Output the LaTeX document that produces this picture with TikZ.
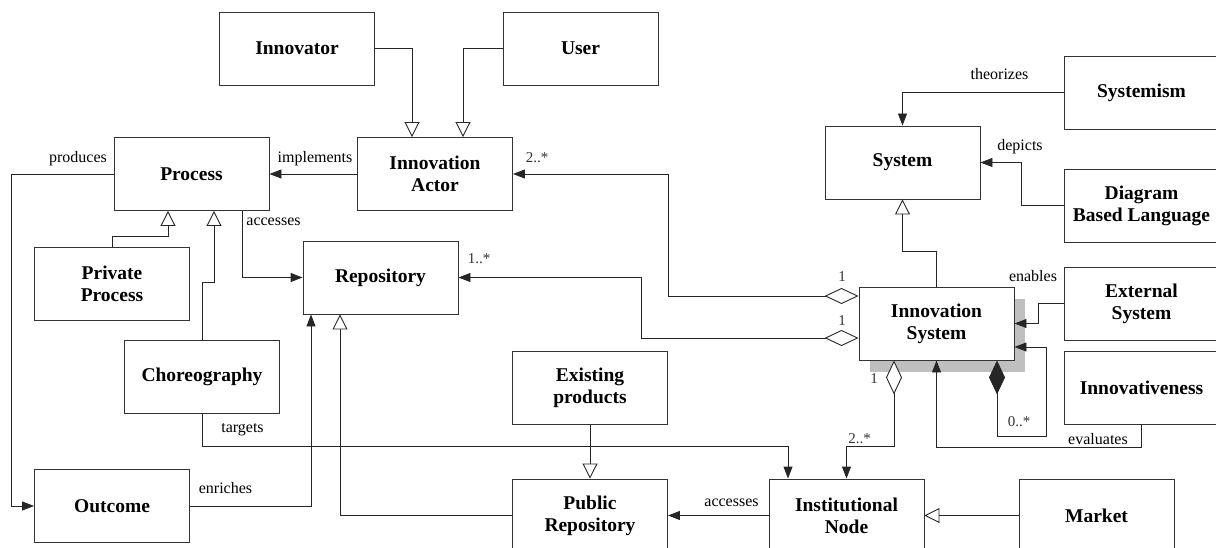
\documentclass[tikz,border=0pt]{standalone}
\usepackage{fontspec}
\setmainfont{Liberation Serif}
\usetikzlibrary{arrows.meta,shadows}

\begin{document}
\begin{tikzpicture}[x=1pt,y=-1pt,line width=0.9pt]
    \tikzstyle{class}=[draw=black!80,fill=white,minimum width=155pt,minimum height=73pt,inner sep=2pt,align=center,font=\fontsize{19.5}{22}\selectfont\bfseries]
    \tikzstyle{link}=[draw=black!85]
    \tikzstyle{assoc}=[link,-{Triangle[length=12pt,width=9pt]}]
    \tikzstyle{gener}=[link,-{Triangle[open,length=15pt,width=15pt,fill=white]}]
    \tikzstyle{aggr}=[link,{Diamond[open,length=34pt,width=16pt,fill=white]}-{Triangle[length=12pt,width=9pt]}]
    \tikzstyle{compo}=[link,{Diamond[length=34pt,width=16pt]}-{Triangle[length=12pt,width=9pt]}]
    \tikzstyle{lbl}=[anchor=base,inner sep=0pt,font=\fontsize{16}{18}\selectfont]
    \tikzstyle{mult}=[anchor=base,inner sep=0pt,text=black!80,font=\fontsize{15}{17}\selectfont]

    \useasboundingbox (0,0) rectangle (1216,548);

    % Draw the classes
    \node[class] (innovator) at (297,48.5) {Innovator};
    \node[class] (user) at (580.5,48.5) {User};
    \node[class] (process) at (191.5,174) {Process};
    \node[class] (actor) at (435,174) {Innovation\\Actor};
    \node[class] (system) at (902.5,162.5) {System};
    \node[class] (systemism) at (1141.5,92.5) {Systemism};
    \node[class] (dbl) at (1141.5,205.5) {Diagram\\Based Language};
    \node[class] (privproc) at (112,284) {Private\\Process};
    \node[class] (choreo) at (202,377) {Choreography};
    \node[class] (repo) at (380.5,277.5) {Repository};
    \node[class] (existing) at (590,388) {Existing\\products};
    \node[class,drop shadow={shadow xshift=11pt,shadow yshift=-12pt,fill=black!25,opacity=1}]
        (innosys) at (936.5,323.5) {Innovation\\System};
    \node[class] (extsys) at (1141.5,303.5) {External\\System};
    \node[class] (innovativeness) at (1141.5,387.5) {Innovativeness};
    \node[class] (outcome) at (112,506) {Outcome};
    \node[class] (pubrepo) at (590,515.5) {Public\\Repository};
    \node[class] (instnode) at (846.5,515.5) {Institutional\\Node};
    \node[class] (market) at (1096.5,515.5) {Market};

    % Generalizations
    \draw[gener] (innovator.east) -| ([xshift=-23pt]actor.north);
    \draw[gener] (user.west) -| ([xshift=28pt]actor.north);
    \draw[gener] (privproc.north) -- ++(0,-11) -| ([xshift=-23.5pt]process.south);
    \draw[gener] (choreo.north) -- ++(0,-58) -| ([xshift=22.5pt]process.south);
    \draw[gener] (innosys.north) -- ++(0,-35) -| (system.south);
    \draw[gener] (pubrepo.west) -| ([xshift=-40.5pt]repo.south);
    \draw[gener] (existing.south) -- (pubrepo.north);
    \draw[gener] (market.west) -- (instnode.east);

    % Associations
    \draw[assoc] (actor.west) -- (process.east);
    \draw[assoc] (process.west) -- ++(-102,0) |- (outcome.west);
    \draw[assoc] ([xshift=50.5pt]process.south) |- (repo.west);
    \draw[assoc] (systemism.west) -| (system.north);
    \draw[assoc] (dbl.west) -- ++(-42,0) |- (system.east);
    \draw[assoc] (extsys.west) -- ++(-25,0) |- (innosys.east);
    \draw[assoc] (innovativeness.south) -- ++(0,23) -| (innosys.south);
    \draw[assoc] (choreo.south) -- ++(0,32) -| ([xshift=-58.5pt]instnode.north);
    \draw[assoc] (outcome.east) -| ([xshift=-69.5pt]repo.south);
    \draw[assoc] (instnode.west) -- (pubrepo.east);

    % Aggregations and composition
    \draw[aggr] ([yshift=27.5pt]innosys.west) -- ++(-190,0) |- (actor.east);
    \draw[aggr] ([yshift=-14.5pt]innosys.west) -- ++(-217,0) |- (repo.east);
    \draw[aggr] ([xshift=-42.5pt]innosys.south) -- ++(0,86) -| (instnode.north);
    \draw[compo] ([xshift=60.5pt]innosys.south) |- ++(49,76) |- ([yshift=-23.5pt]innosys.east);

    % Role names
    \foreach \name/\x/\y/\txt in {l-prod/78/163/produces, l-impl/315/163/implements,
        l-acc/273.5/226/accesses, l-theo/999.5/80/theorizes, l-dep/1020/151/depicts,
        l-ena/1033/282/enables, l-eval/1098/444/evaluates, l-targ/242.5/432/targets,
        l-enr/225.5/493/enriches, l-acc2/731.5/506/accesses}
        \node[lbl] (\name) at (\x,\y) {\txt};

    % Multiplicities
    \foreach \name/\x/\y/\txt in {m-act/537/163/2..*, m-rep/479/264/1..*,
        m-one/842/282/1, m-two/842/325/1, m-three/874/383/1,
        m-self/1019/426/0..*, m-inst/859.5/443/2..*}
        \node[mult] (\name) at (\x,\y) {\txt};

\end{tikzpicture}
\end{document}
